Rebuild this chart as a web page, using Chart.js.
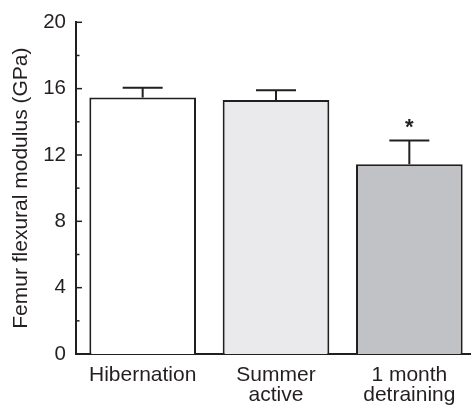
<!DOCTYPE html>
<html>
<head>
<meta charset="utf-8">
<script src="https://cdn.jsdelivr.net/npm/chart.js@4/dist/chart.umd.min.js"></script>
<style>
  html, body { margin: 0; padding: 0; background: #fff; overflow: hidden; }
  #wrap { width: 480px; height: 406px; }
</style>
</head>
<body>
<div id="wrap"><canvas id="c" width="480" height="406"></canvas></div>
<script>
// Femur flexural modulus by group (mean and SEM, GPa)
const groups = [['Hibernation'], ['Summer', 'active'], ['1 month', 'detraining']];
const modulus = [15.46, 15.32, 11.44];
const sem = [0.6, 0.58, 1.44];
const significance = ['', '', '*'];
const yTickValues = [0, 4, 8, 12, 16, 20];
const fills = ['#ffffff', '#eaeaec', '#c1c2c5'];

const ink = '#231f20';
const fontFamily = '"Liberation Sans", Arial, Helvetica, sans-serif';

// Mean ± SEM whiskers with caps, plus significance markers
const errorBars = {
  id: 'errorBars',
  afterDatasetsDraw(chart) {
    const ctx = chart.ctx;
    const y = chart.scales.y;
    const meta = chart.getDatasetMeta(0);
    ctx.save();
    ctx.strokeStyle = ink;
    ctx.lineWidth = 2;
    meta.data.forEach((bar, i) => {
      const yBar = y.getPixelForValue(modulus[i]);
      const yTop = y.getPixelForValue(modulus[i] + sem[i]);
      ctx.beginPath();
      ctx.moveTo(bar.x, yBar);
      ctx.lineTo(bar.x, yTop);
      ctx.moveTo(bar.x - 20, yTop);
      ctx.lineTo(bar.x + 20, yTop);
      ctx.stroke();
      if (significance[i]) {
        ctx.fillStyle = ink;
        ctx.font = 'bold 22px ' + fontFamily;
        ctx.textAlign = 'center';
        ctx.textBaseline = 'alphabetic';
        ctx.fillText(significance[i], bar.x, yTop - 6);
      }
    });
    ctx.restore();
  }
};

// Inward-pointing major and minor ticks on the value axis
const innerTicks = {
  id: 'innerTicks',
  afterDraw(chart) {
    const ctx = chart.ctx;
    const y = chart.scales.y;
    const left = chart.chartArea.left;
    ctx.save();
    ctx.strokeStyle = ink;
    ctx.lineWidth = 1.5;
    for (let k = 0; k < yTickValues.length; k++) {
      const major = y.getPixelForValue(yTickValues[k]);
      ctx.beginPath();
      ctx.moveTo(left, major);
      ctx.lineTo(left + 6, major);
      ctx.stroke();
      if (k < yTickValues.length - 1) {
        const minor = y.getPixelForValue((yTickValues[k] + yTickValues[k + 1]) / 2);
        ctx.beginPath();
        ctx.moveTo(left, minor);
        ctx.lineTo(left + 3.5, minor);
        ctx.stroke();
      }
    }
    ctx.restore();
  }
};

new Chart(document.getElementById('c'), {
  type: 'bar',
  data: {
    labels: groups,
    datasets: [{
      data: modulus,
      backgroundColor: fills,
      borderColor: ink,
      borderWidth: 2,
      borderSkipped: 'bottom',
      barPercentage: 0.8,
      categoryPercentage: 1.0
    }]
  },
  options: {
    responsive: false,
    animation: false,
    devicePixelRatio: 1,
    layout: { padding: { top: 21, right: 4, left: 0, bottom: 0 } },
    plugins: { legend: { display: false }, tooltip: { enabled: false } },
    scales: {
      x: {
        grid: { display: false, drawTicks: false },
        border: { display: true, color: ink, width: 2 },
        ticks: {
          color: ink,
          font: { size: 21, family: fontFamily, lineHeight: 0.95 },
          padding: 11,
          maxRotation: 0,
          autoSkip: false
        },
        afterFit(scale) { scale.height = 52; }
      },
      y: {
        min: 0,
        max: 20,
        grid: { display: false, drawTicks: false },
        border: { display: true, color: ink, width: 2 },
        afterBuildTicks(scale) { scale.ticks = yTickValues.map(v => ({ value: v })); },
        ticks: {
          color: ink,
          font: { size: 20.5, family: fontFamily },
          padding: 10
        },
        title: {
          display: true,
          text: 'Femur flexural modulus (GPa)',
          color: ink,
          font: { size: 21, family: fontFamily },
          padding: { top: 9, bottom: 0 }
        },
        afterFit(scale) { scale.width = 76; }
      }
    }
  },
  plugins: [errorBars, innerTicks]
});
</script>
</body>
</html>
